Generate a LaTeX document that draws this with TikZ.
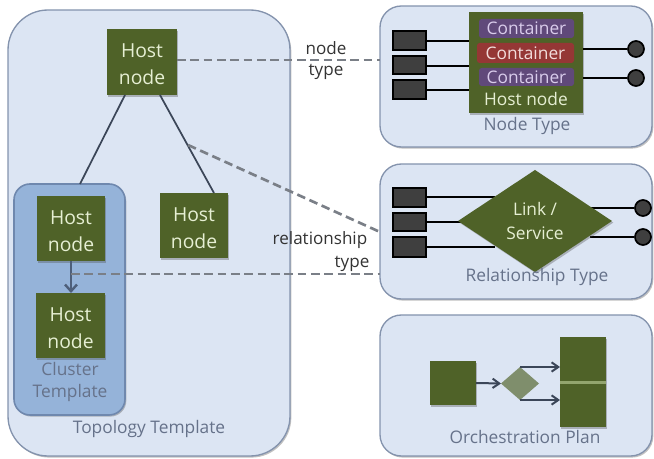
\documentclass[tikz,border=0pt]{standalone}
\usepackage{fontspec}
\setmainfont{Open Sans}
\usetikzlibrary{shapes.geometric,shadows,arrows.meta}
\definecolor{panelfill}{HTML}{DCE5F3}
\definecolor{panelline}{HTML}{8493AD}
\definecolor{clusterfill}{HTML}{95B3D9}
\definecolor{clusterline}{HTML}{6F88AE}
\definecolor{hostgreen}{HTML}{4F6228}
\definecolor{hosttext}{HTML}{E6EFD3}
\definecolor{portdark}{HTML}{3F3F3F}
\definecolor{purplebox}{HTML}{60497A}
\definecolor{redbox}{HTML}{953735}
\definecolor{lilac}{HTML}{D9CCEB}
\definecolor{rosy}{HTML}{F2DCDB}
\definecolor{softdiamond}{HTML}{7F8E6C}
\definecolor{captiontext}{HTML}{66728A}
\definecolor{dashgrey}{HTML}{7A7F87}
\definecolor{wirecol}{HTML}{3B4658}
\definecolor{divider}{HTML}{93A56E}
\tikzset{
  softshadow/.style={drop shadow={shadow xshift=1pt,shadow yshift=-1.2pt,opacity=.35,fill=black!70}},
  panel/.style={draw=panelline,line width=1pt,fill=panelfill,rounded corners=16pt,softshadow},
  topology/.style={draw=panelline,line width=1pt,fill=panelfill,rounded corners=30pt,softshadow},
  cluster/.style={draw=clusterline,line width=1.2pt,fill=clusterfill,rounded corners=12pt,softshadow},
  host/.style={fill=hostgreen,text=hosttext,align=center,font=\fontsize{14.5}{20.5}\selectfont,softshadow},
  cont/.style={rounded corners=2pt,text=lilac,font=\fontsize{13}{14}\selectfont},
  port/.style={fill=portdark,draw=black,line width=.9pt},
  pin/.style={circle,fill=portdark,draw=black,line width=1.3pt,inner sep=0pt,minimum size=12pt},
  wire/.style={draw=black,line width=1.8pt},
  tree/.style={draw=wirecol,line width=1.3pt},
  dashlink/.style={draw=dashgrey,line width=2pt,dash pattern=on 6.5pt off 3.5pt},
  caption/.style={text=captiontext,font=\fontsize{13}{14}\selectfont,inner sep=0pt},
  linklabel/.style={text=black!80,font=\fontsize{12.8}{14}\selectfont,inner sep=0pt},
  flow/.style={draw=wirecol,line width=1.5pt,-{Straight Barb[length=5pt,width=7pt]}},
}
% \pxbox{name}{style}{x1}{y1}{x2}{y2}{text}
\newcommand{\pxbox}[7]{%
  \pgfmathsetmacro{\pxw}{(#5-#3)*.75}\pgfmathsetmacro{\pxh}{(#6-#4)*.75}%
  \node[#2,inner sep=0pt,outer sep=0pt,minimum width=\pxw pt,minimum height=\pxh pt] (#1) at ({(#3+#5)/2},{(#4+#6)/2}) {#7};}
\newcommand{\hostlabel}{\rule{0pt}{14pt}Host\\node}
\begin{document}
\begin{tikzpicture}[x=.75pt,y=-.75pt]
\useasboundingbox (0,0) rectangle (654,459);
% panels
\pxbox{topo}{topology}{8}{10}{290}{456}{}
\pxbox{ntpanel}{panel}{380}{6}{652}{147}{}
\pxbox{rtpanel}{panel}{380}{164}{652}{299}{}
\pxbox{oppanel}{panel}{380}{315}{652}{456}{}
\pxbox{clus}{cluster}{14}{184}{125}{415}{}
% hosts
\pxbox{htop}{host}{107}{29}{177}{95}{\hostlabel}
\pxbox{hright}{host}{160}{193}{228}{258}{\hostlabel}
\pxbox{hc}{host}{37}{196}{105}{261}{\hostlabel}
\pxbox{hd}{host}{36}{293}{105}{358}{\hostlabel}
% tree
\coordinate (clustop) at (80,184);
\coordinate (lefttop) at (125,95);
\coordinate (righttop) at (160,95);
\coordinate (rightend) at (214,193);
\draw[tree] (lefttop) -- (clustop);
\draw[tree] (righttop) -- (rightend);
\coordinate (arrowtop) at (71,261);
\coordinate (arrowend) at (71,293);
\draw[draw=clusterline!70!black,line width=1.8pt,-{Straight Barb[length=5pt,width=9pt]}] (arrowtop) -- (arrowend);
% dashed
\coordinate (d1b) at (380,60);
\coordinate (d1a) at (177,60);
\coordinate (d2a) at (188,145);
\coordinate (d2b) at (380,232);
\coordinate (d3a) at (71,274);
\coordinate (d3b) at (380,274);
\draw[dashlink] (d1a) -- (d1b);
\draw[dashlink] (d2a) -- (d2b);
\draw[dashlink] (d3a) -- (d3b);
\node[linklabel] (lnode) at (326,48) {node};
\node[linklabel] (ltype) at (326,72) {type};
\node[linklabel] (lrel) at (320,240) {relationship};
\node[linklabel] (ltype2) at (352,264) {type};
\node[caption] (ccl) at (70,369) {Cluster};
\node[caption] (cte) at (70,393) {Template};
\node[caption] (ctt) at (149,429) {Topology Template};
% node type
\pxbox{np1}{port}{393}{31}{426}{50}{}
\pxbox{np2}{port}{393}{56}{426}{74}{}
\pxbox{np3}{port}{393}{80}{426}{99}{}
\pxbox{nh}{fill=hostgreen,softshadow}{469}{12}{583}{113}{}
\pxbox{c1}{cont,fill=purplebox}{479}{19}{574}{38}{Container}
\pxbox{c2}{cont,fill=redbox,text=rosy}{477}{43}{574}{63}{Container}
\pxbox{c3}{cont,fill=purplebox}{479}{68}{574}{86}{Container}
\node[text=hosttext,font=\fontsize{13}{14}\selectfont,inner sep=0pt] (nhl) at (526,99) {Host node};
\node[pin] (npin1) at (636,49) {};
\node[pin] (npin2) at (636,78) {};
\coordinate (nl1) at (469,41);\coordinate (nl2) at (469,66);\coordinate (nl3) at (469,90);
\coordinate (nr1) at (583,49);\coordinate (nr2) at (583,78);
\draw[wire] (np1.east |- nl1) -- (nl1);
\draw[wire] (np2.east |- nl2) -- (nl2);
\draw[wire] (np3.east |- nl3) -- (nl3);
\draw[wire] (nr1) -- (npin1);
\draw[wire] (nr2) -- (npin2);
\node[caption] (cnt) at (527,126) {Node Type};
% relationship type
\pxbox{rp1}{port}{393}{188}{426}{207}{}
\pxbox{rp2}{port}{393}{213}{426}{231}{}
\pxbox{rp3}{port}{393}{237}{426}{257}{}
\node[pin] (rpin1) at (643,208) {};
\node[pin] (rpin2) at (643,237) {};
\coordinate (rl1) at (495,197);\coordinate (rl2) at (465,222);\coordinate (rl3) at (495,247);
\coordinate (rr1) at (590,208);\coordinate (rr2) at (590,237);
\draw[wire] (rp1.east |- rl1) -- (rl1);
\draw[wire] (rp2.east |- rl2) -- (rl2);
\draw[wire] (rp3.east |- rl3) -- (rl3);
\draw[wire] (rr1) -- (rpin1);
\draw[wire] (rr2) -- (rpin2);
\pxbox{rd}{diamond,aspect=1.5,host,font=\fontsize{13}{18}\selectfont}{458}{170}{612}{272}{Link /\\Service}
\node[caption] (crt) at (537,277) {Relationship Type};
% orchestration
\pxbox{oa}{fill=hostgreen,softshadow}{430}{361}{476}{405}{}
\pxbox{ob}{diamond,fill=softdiamond}{501}{367}{539}{400}{}
\pxbox{oc}{fill=hostgreen,softshadow}{560}{337}{606}{427}{}
\pxbox{odiv}{fill=divider}{560}{381}{606}{384}{}
\draw[flow] (oa.east) -- (ob.west);
\coordinate (ob1) at (520,367);\coordinate (ob2) at (520,400);
\draw[flow] (ob.north) -- (ob1) -- (oc.west |- ob1);
\draw[flow] (ob.south) -- (ob2) -- (oc.west |- ob2);
\node[caption] (cop) at (525,437) {Orchestration Plan};
\end{tikzpicture}
\end{document}
